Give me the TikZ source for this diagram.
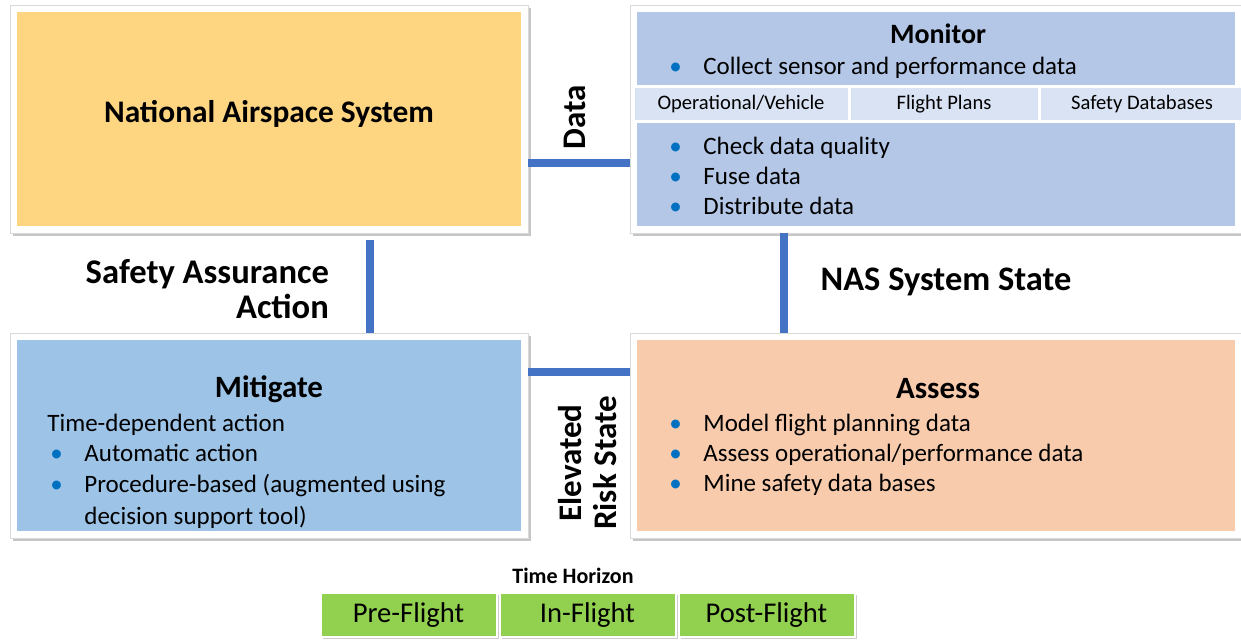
\documentclass[tikz,border=0pt]{standalone}
\usepackage{fontspec}
\setmainfont{Carlito}
\usetikzlibrary{positioning}
\usetikzlibrary{shadows}

\definecolor{nasc}{RGB}{254,213,128}
\definecolor{monc}{RGB}{180,199,231}
\definecolor{cellc}{RGB}{218,227,243}
\definecolor{mitc}{RGB}{157,195,230}
\definecolor{asrc}{RGB}{248,203,173}
\definecolor{hznc}{RGB}{146,208,80}
\definecolor{linec}{RGB}{68,114,196}
\definecolor{bulc}{RGB}{0,112,192}

\newcommand{\bul}{\makebox[18pt][l]{\hspace{1pt}\textcolor{bulc}{\textbullet}}}

\begin{document}
\begin{tikzpicture}[x=0.5pt, y=-0.5pt,
  box/.style={draw=black!15, fill=white, inner sep=0pt,
    drop shadow={shadow xshift=1.5pt, shadow yshift=-1.5pt, opacity=0.45},
    path picture={\fill[#1] ([shift={(3.5pt,3.5pt)}]path picture bounding box.south west)
      rectangle ([shift={(-3.5pt,-3.5pt)}]path picture bounding box.north east);}},
  title/.style={font=\bfseries\fontsize{15.5}{18}\selectfont},
  item/.style={anchor=base west, inner sep=0pt, font=\fontsize{12.5}{15}\selectfont},
  lbl/.style={font=\bfseries\fontsize{16.5}{17.5}\selectfont, align=center},
  cell/.style={fill=cellc, draw=white, line width=1.5pt, outer sep=0pt,
    minimum height=17.5pt, inner sep=0pt, font=\fontsize{10.3}{12}\selectfont},
  hzn/.style={fill=hznc, draw=white, line width=1pt, outer sep=0pt,
    minimum width=88pt, minimum height=22pt, inner sep=0pt,
    drop shadow={shadow xshift=1.2pt, shadow yshift=-1.2pt, opacity=0.4},
    font=\fontsize{14.3}{16}\selectfont},
  conn/.style={draw=linec, line width=4pt}]

\useasboundingbox (0,0) rectangle (1241,640);

% the four boxes
\node[box=nasc, minimum width=259pt, minimum height=114pt] (nas) at (269,119) {};
\node[box=monc, minimum width=306pt, minimum height=114pt] (mon) at (936,119) {};
\node[box=mitc, minimum width=259pt, minimum height=102.5pt] (mit) at (269,435.5) {};
\node[box=asrc, minimum width=306pt, minimum height=102.5pt] (asr) at (936,435.5) {};

% national airspace system
\node[title, font=\bfseries\fontsize{15.7}{18}\selectfont] (nastitle) at (269,114) {National Airspace System};

% monitor
\node[title, font=\bfseries\fontsize{14}{16}\selectfont] (montitle) at (938,34) {Monitor};
\node[item] (mcol) at (667,75) {\bul Collect sensor and performance data};
\node[cell, minimum width=108pt] (c1) at (741,104.5) {Operational/Vehicle};
\node[cell, minimum width=95pt, right=0pt of c1] (c2) {Flight Plans};
\node[cell, minimum width=103pt, right=0pt of c2] (c3) {Safety Databases};
\foreach \t [count=\i] in {Check data quality, Fuse data, Distribute data}
  \node[item] (mb\i) at (667,{125+30*\i}) {\bul\t};

% mitigate
\node[title] (mittitle) at (269,389) {Mitigate};
\node[item] (mtime) at (47,432) {Time-dependent action};
\node[item] (ma1) at (48,462) {\bul Automatic action};
\node[item] (ma2) at (48,493) {\bul Procedure-based (augmented using};
\node[item] (ma3) at (48,524) {\hspace{18pt}decision support tool)};

% assess
\node[title] (asrtitle) at (938,389) {Assess};
\foreach \t [count=\i] in {Model flight planning data, Assess operational/performance data, Mine safety data bases}
  \node[item] (ab\i) at (667,{402+30*\i}) {\bul\t};

% connectors
\draw[conn] ([yshift=-22pt]nas.east) -- ([yshift=-22pt]mon.west);
\draw[conn] ([xshift=-76pt]mon.south) -- ([xshift=-76pt]asr.north);
\draw[conn] ([xshift=50.5pt, yshift=-3.5pt]nas.south) -- ([xshift=50.5pt]mit.north);
\draw[conn] ([yshift=31.75pt]mit.east) -- ([yshift=31.75pt]asr.west);

% labels
\node[lbl, rotate=90] (ldata) at (575,117) {Data};
\node[lbl, font=\bfseries\fontsize{17.2}{18}\selectfont] (lstate) at (946,282) {NAS System State};
\node[lbl, align=right, anchor=east, font=\bfseries\fontsize{17.3}{17.5}\selectfont] (lsafe) at (336,289) {Safety Assurance\\Action};
\node[lbl, rotate=90] (lrisk) at (588,463) {Elevated\\Risk State};

% time horizon
\node[font=\bfseries\fontsize{11}{13}\selectfont] (thz) at (573,576) {Time Horizon};
\node[hzn] (pre) at (408.5,615) {Pre-Flight};
\node[hzn, right=1.5pt of pre] (in) {In-Flight};
\node[hzn, right=1.5pt of in] (post) {Post-Flight};
\end{tikzpicture}
\end{document}
